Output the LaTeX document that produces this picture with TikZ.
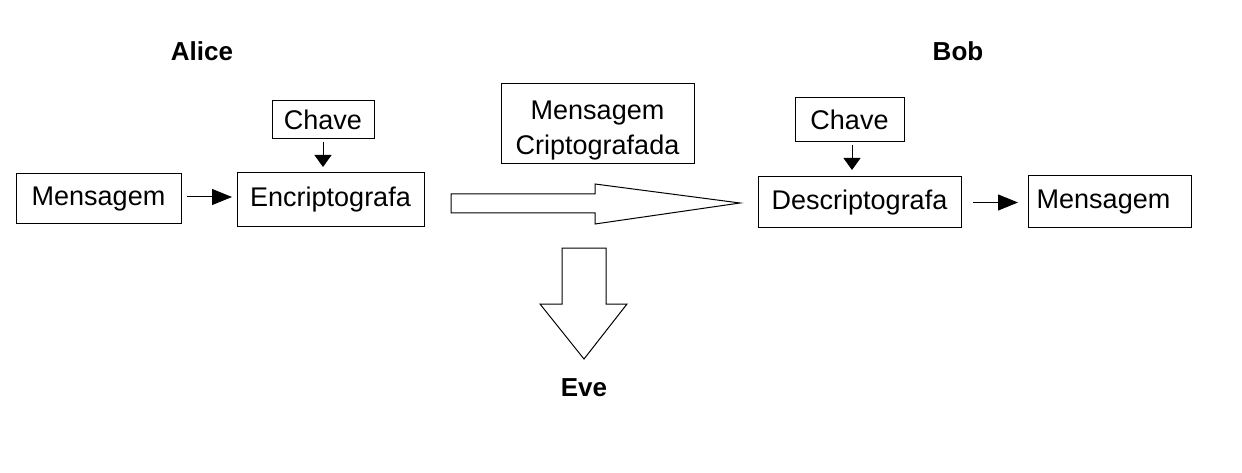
\documentclass[tikz,border=0pt]{standalone}
\usepackage{fontspec}
\setmainfont{Liberation Sans}
\usetikzlibrary{arrows.meta}
\begin{document}
\begin{tikzpicture}[x=1pt,y=-1pt,
  box/.style={draw,line width=1pt,inner sep=0pt,outer sep=0pt,font=\fontsize{27}{35}\selectfont,align=center},
  lbl/.style={font=\fontsize{26}{30}\selectfont\bfseries,inner sep=0pt},
  vconn/.style={line width=1pt,-{Triangle[length=12pt,width=17pt]}},
  hconn/.style={line width=1pt,-{Triangle[length=20pt,width=16pt]}},
  blockarrow/.style={draw,line width=1pt,fill=white,line join=miter}]
\useasboundingbox (0,0) rectangle (1242,473);
% labels
\node[lbl] (alice) at (202,51) {Alice};
\node[lbl] (bob) at (958,51) {Bob};
\node[lbl] (eve) at (584,388) {Eve};
% boxes
\node[box,minimum width=165pt,minimum height=50pt] (msgA) at (98.5,199) {Mensagem};
\node[box,minimum width=187pt,minimum height=54pt] (enc) at (330.5,200) {Encriptografa};
\node[box,minimum width=102pt,minimum height=38pt] (keyA) at (323,120) {Chave};
\node[box,minimum width=193pt,minimum height=80pt] (cmsg) at (597.5,124) {\raisebox{-6pt}[\height][\depth]{\begin{tabular}{@{}c@{}}Mensagem\\Criptografada\end{tabular}}};
\node[box,minimum width=109pt,minimum height=44pt] (keyB) at (849.5,120) {Chave};
\node[box,minimum width=203pt,minimum height=51pt] (dec) at (859.5,202.5) {Descriptografa};
\node[box,minimum width=163pt,minimum height=52pt] (msgB) at (1109.5,202) {\hspace*{-12pt}Mensagem};
% connectors
\draw[vconn,shorten <=3pt,shorten >=6pt] (keyA.south) -- (keyA.south |- enc.north);
\draw[hconn,shorten <=6pt,shorten >=5pt] ([yshift=2pt]msgA.east) -- ([yshift=2pt]msgA.east -| enc.west);
\draw[vconn,shorten <=3pt,shorten >=7pt] ([xshift=2.5pt]keyB.south) -- ([xshift=2.5pt]keyB.south |- dec.north);
\draw[hconn,shorten <=12pt,shorten >=10pt] (dec.east) -- (dec.east -| msgB.west);
% block arrows
\draw[blockarrow] (451,194) -- (595,194) -- (595,184) -- (740,203) -- (595,224) -- (595,213) -- (451,213) -- cycle;
\draw[blockarrow] (562,248) -- (606,248) -- (606,304) -- (627,304) -- (584,359) -- (540,304) -- (562,304) -- cycle;
\end{tikzpicture}
\end{document}
